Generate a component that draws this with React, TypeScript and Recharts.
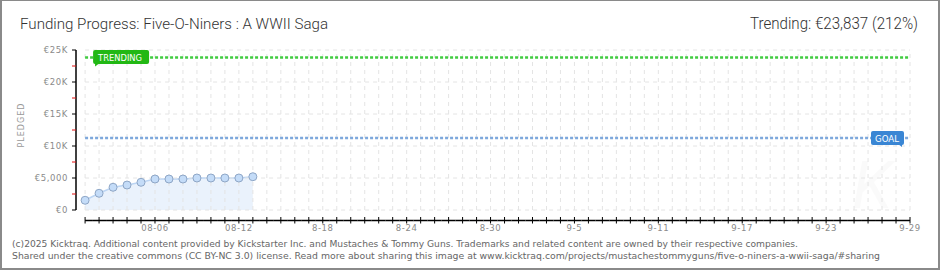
import React from 'react';
import { ComposedChart, Area, XAxis, YAxis, ReferenceLine } from 'recharts';

const pledged = [1520, 2610, 3550, 3900, 4330, 4840, 4840, 4840, 5000, 5000, 5000, 5000, 5200];
const goal = 11244;
const trending = 23837;
const lastDay = 59;
const xMin = -0.65;
const xLabelDays = [5, 11, 17, 23, 29, 35, 41, 47, 53, 59];
const xLabels = ['08-06', '08-12', '8-18', '8-24', '8-30', '9-5', '9-11', '9-17', '9-23', '9-29'];
const yTicks = [0, 2500, 5000, 7500, 10000, 12500, 15000, 17500, 20000, 22500, 25000];
const yMajor = [0, 5000, 10000, 15000, 20000, 25000];
const yLabels = ['€0', '€5,000', '€10K', '€15K', '€20K', '€25K'];

const title = 'Funding Progress: Five-O-Niners : A WWII Saga';
const trendText = 'Trending:  €23,837 (212%)';
const footer1 = '(c)2025 Kicktraq. Additional content provided by Kickstarter Inc. and Mustaches & Tommy Guns. Trademarks and related content are owned by their respective companies.';
const footer2 = 'Shared under the creative commons (CC BY-NC 3.0) license. Read more about sharing this image at www.kicktraq.com/projects/mustachestommyguns/five-o-niners-a-wwii-saga/#sharing';

const days: number[] = [];
for (let d = 0; d <= lastDay; d++) days.push(d);
const data = pledged.map((v, i) => ({ day: i, value: v }));

const axisFont = '"DejaVu Sans", sans-serif';

const XTick = (props: any) => {
  const { x, y, payload } = props;
  const d = payload.value;
  const half = 7;
  const x1 = d === 0 ? x : x - half;
  const x2 = d === lastDay ? x : x + half;
  const li = xLabelDays.indexOf(d);
  return (
    <g>
      <line x1={x1} x2={x2} y1={y + 0.5} y2={y + 0.5} stroke="#000" strokeWidth={1.5} />
      <line x1={x} x2={x} y1={y - 3} y2={y + 3.5} stroke="#000" strokeWidth={1} />
      {li >= 0 && (
        <text x={x} y={y + 11} textAnchor="middle" fontSize={8.5} fill="#8a8a8a" fontFamily={axisFont} letterSpacing={0.6}>
          {xLabels[li]}
        </text>
      )}
    </g>
  );
};

const YTick = (props: any) => {
  const { x, y, payload } = props;
  const v = payload.value;
  const mi = yMajor.indexOf(v);
  const major = mi >= 0;
  return (
    <g>
      <line x1={x - 4} x2={x} y1={y} y2={y} stroke={major ? '#000' : '#e01010'} strokeWidth={1} />
      {major && (
        <text x={x - 8} y={y + 3} textAnchor="end" fontSize={8.5} fill="#8a8a8a" fontFamily={axisFont} letterSpacing={0.6}>
          {yLabels[mi]}
        </text>
      )}
    </g>
  );
};

const Dot = (props: any) => {
  const { cx, cy } = props;
  if (cx == null || cy == null) return null;
  return <circle cx={cx} cy={cy} r={4} fill="#c4dcf8" stroke="#8ea6c6" strokeWidth={1} />;
};

const TrendLabel = (props: any) => {
  const vb = props.viewBox || {};
  const x = (vb.x ?? 85) + 8;
  const y = vb.y ?? 57;
  return (
    <g>
      <rect x={x} y={y - 7.5} width={56} height={14} rx={2} fill="#22b814" />
      <path d={`M${x + 2} ${y + 6} L${x + 2} ${y + 9} L${x + 6} ${y + 6} Z`} fill="#22b814" />
      <text x={x + 5} y={y + 3.5} fontSize={8.5} fill="#fff" fontFamily={axisFont} textLength={44} lengthAdjust="spacingAndGlyphs">
        TRENDING
      </text>
    </g>
  );
};

const GoalLabel = (props: any) => {
  const vb = props.viewBox || {};
  const right = (vb.x ?? 85) + (vb.width ?? 825) - 6;
  const y = vb.y ?? 138;
  const w = 33;
  return (
    <g>
      <rect x={right - w} y={y - 7} width={w} height={14} rx={2} fill="#3a86d4" />
      <path d={`M${right - 2} ${y + 6} L${right - 2} ${y + 9} L${right - 6} ${y + 6} Z`} fill="#3a86d4" />
      <text x={right - w + 4} y={y + 3.5} fontSize={8.5} fill="#fff" fontFamily={axisFont} textLength={24} lengthAdjust="spacingAndGlyphs">
        GOAL
      </text>
    </g>
  );
};

export default function App() {
  return (
    <div style={{ position: 'absolute', left: 0, top: 0, width: 940, height: 270, background: '#fff', overflow: 'hidden' }}>
      <svg width={940} height={270} style={{ position: 'absolute', left: 0, top: 0 }}>
        <text x={872} y={208} fontSize={66} fontStyle="italic" fontFamily="Roboto, sans-serif" fill="#000" fillOpacity={0.02} textAnchor="middle">K</text>
      </svg>
      <ComposedChart width={940} height={270} data={data} margin={{ top: 50, right: 30, bottom: 30, left: 0 }}>
        <XAxis
          dataKey="day"
          type="number"
          domain={[xMin, lastDay]}
          ticks={days}
          interval={0}
          tick={<XTick />}
          tickLine={false}
          axisLine={false}
          tickSize={0}
          tickMargin={0}
          height={20}
          allowDataOverflow
        />
        <YAxis
          type="number"
          domain={[0, 25000]}
          ticks={yTicks}
          interval={0}
          tick={<YTick />}
          tickLine={false}
          axisLine={false}
          tickSize={0}
          tickMargin={0}
          width={76}
          padding={{ top: 0, bottom: 10 }}
        />
        {days.map((d) => (
          <ReferenceLine key={'v' + d} segment={[{ x: d, y: 0 }, { x: d, y: 25000 }]} stroke="#e4e4e4" strokeDasharray="4 4" />
        ))}
        {yMajor.map((v) => (
          <ReferenceLine key={'h' + v} segment={[{ x: 0, y: v }, { x: lastDay, y: v }]} stroke="#e4e4e4" strokeDasharray="4 4" />
        ))}
        <ReferenceLine segment={[{ x: xMin, y: 0 }, { x: xMin, y: 25000 }]} stroke="#000" strokeWidth={1.5} />
        <Area
          type="linear"
          dataKey="value"
          stroke="#bcd5f3"
          strokeWidth={1.5}
          fill="#e8f1fc"
          fillOpacity={0.9}
          dot={<Dot />}
          activeDot={false}
          isAnimationActive={false}
        />
        <ReferenceLine
          segment={[{ x: 0, y: trending }, { x: lastDay, y: trending }]}
          stroke="#40cc40"
          strokeWidth={2.5}
          strokeDasharray="3 2"
          label={<TrendLabel />}
        />
        <ReferenceLine
          segment={[{ x: 0, y: goal }, { x: lastDay, y: goal }]}
          stroke="#7ea8dc"
          strokeWidth={2.5}
          strokeDasharray="3 2"
          label={<GoalLabel />}
        />
      </ComposedChart>
      <svg width={940} height={270} style={{ position: 'absolute', left: 0, top: 0, pointerEvents: 'none' }}>
        <text x={20} y={29} fontSize={14.5} fill="#333" fontFamily="Roboto, sans-serif" fontWeight={300} textLength={308} lengthAdjust="spacingAndGlyphs">
          {title}
        </text>
        <text x={750} y={28.5} fontSize={16.5} fill="#333" fontFamily="Roboto, sans-serif" fontWeight={300} textLength={168} lengthAdjust="spacingAndGlyphs">
          {trendText}
        </text>
        <text x={24} y={125} fontSize={8} fill="#999" fontFamily={axisFont} textAnchor="middle" transform="rotate(-90 24 125)" letterSpacing={1}>
          PLEDGED
        </text>
        <text x={12} y={247} fontSize={9.5} fill="#666" fontFamily={axisFont} textLength={786} lengthAdjust="spacingAndGlyphs">
          {footer1}
        </text>
        <text x={12} y={259} fontSize={9.5} fill="#666" fontFamily={axisFont} textLength={868} lengthAdjust="spacingAndGlyphs">
          {footer2}
        </text>
      </svg>
      <div
        style={{
          position: 'absolute',
          left: 0,
          top: 0,
          width: 940,
          height: 270,
          boxSizing: 'border-box',
          borderTop: '1px solid #8a8a8a',
          borderLeft: '2px solid #8a8a8a',
          borderRight: '2px solid #8a8a8a',
          borderBottom: '2px solid #8a8a8a',
          pointerEvents: 'none',
        }}
      />
    </div>
  );
}
